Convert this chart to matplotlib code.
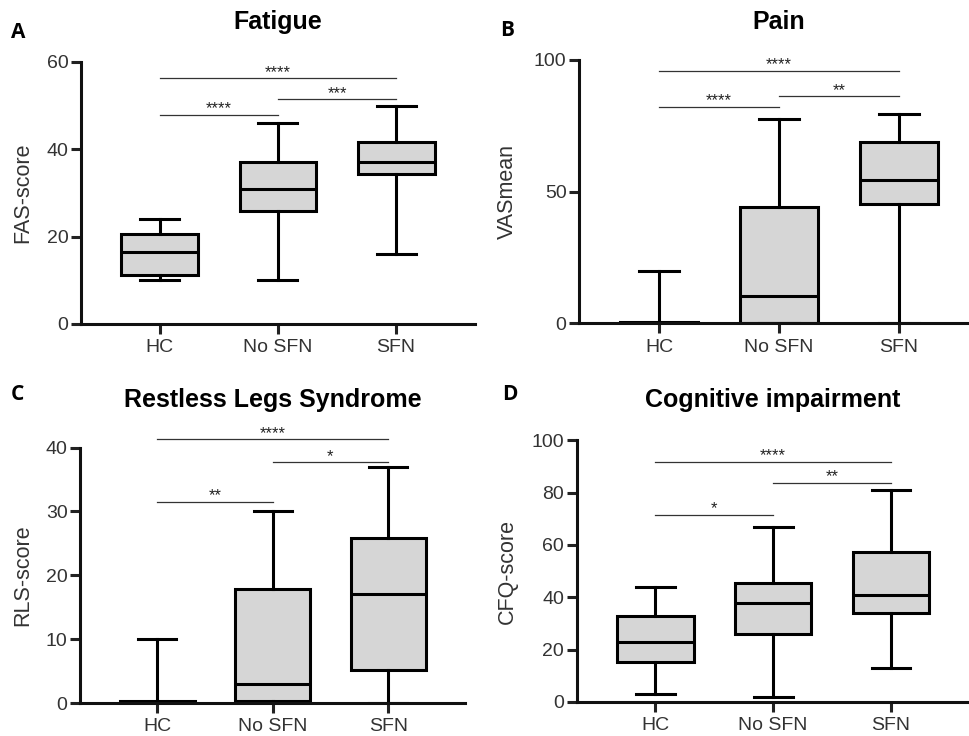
import matplotlib
matplotlib.use('Agg')
import matplotlib.pyplot as plt

plt.rcParams['font.family'] = ['Liberation Sans', 'DejaVu Sans']

# Groups on the x axis
GROUPS = ['HC', 'No SFN', 'SFN']

# Box statistics (whisker low, Q1, median, Q3, whisker high)
fas_lo = [10, 10, 16]
fas_q1 = [11.2, 25.8, 34.3]
fas_med = [16.5, 30.8, 37]
fas_q3 = [20.5, 37.2, 41.7]
fas_hi = [24, 46, 50]

vas_lo = [0, 0, 0]
vas_q1 = [0, 0.3, 45.3]
vas_med = [0, 10.5, 54.3]
vas_q3 = [0.6, 44, 68.9]
vas_hi = [20, 77.6, 79.5]

rls_lo = [0, 0, 0]
rls_q1 = [0, 0.3, 5.1]
rls_med = [0, 3, 17]
rls_q3 = [0.3, 17.8, 25.8]
rls_hi = [10, 30, 37]

cfq_lo = [3, 2, 13]
cfq_q1 = [15.3, 26, 33.9]
cfq_med = [22.8, 38, 40.9]
cfq_q3 = [33, 45.4, 57.2]
cfq_hi = [44, 67, 81]

# Significance brackets: (group a, group b, height, label)
fas_sig = [(1, 2, 47.9, '****'), (2, 3, 51.5, '***'), (1, 3, 56.3, '****')]
vas_sig = [(1, 2, 82.2, '****'), (2, 3, 86.2, '**'), (1, 3, 95.8, '****')]
rls_sig = [(1, 2, 31.5, '**'), (2, 3, 37.7, '*'), (1, 3, 41.3, '****')]
cfq_sig = [(1, 2, 71.5, '*'), (2, 3, 83.8, '**'), (1, 3, 91.7, '****')]

LW = 2.2
FILL = '#d6d6d6'

paineis = [
    # letra, titulo, ylabel, dados, sig, yticks, rect, title_y, letter pos, ylabel x
    ('A', 'Fatigue', 'FAS-score', (fas_lo, fas_q1, fas_med, fas_q3, fas_hi), fas_sig,
     [0, 20, 40, 60], [0.0835, 0.5598, 0.406, 0.356], 1.153, (0.0186, 0.9565), -0.122),
    ('B', 'Pain', 'VASmean', (vas_lo, vas_q1, vas_med, vas_q3, vas_hi), vas_sig,
     [0, 50, 100], [0.597, 0.5607, 0.412, 0.358], 1.144, (0.523, 0.959), -0.152),
    ('C', 'Restless Legs Syndrome', 'RLS-score', (rls_lo, rls_q1, rls_med, rls_q3, rls_hi), rls_sig,
     [0, 10, 20, 30, 40], [0.0825, 0.0448, 0.397, 0.347], 1.186, (0.0175, 0.4637), -0.122),
    ('D', 'Cognitive impairment', 'CFQ-score', (cfq_lo, cfq_q1, cfq_med, cfq_q3, cfq_hi), cfq_sig,
     [0, 20, 40, 60, 80, 100], [0.5945, 0.0462, 0.405, 0.3556], 1.153, (0.526, 0.4637), -0.149),
]

fig = plt.figure(figsize=(9.7, 7.36), dpi=100)

for letra, titulo, ylabel, dados, sig, yticks, rect, title_y, lpos, ylx in paineis:
    ax = fig.add_axes(rect)
    lo, q1, med, q3, hi = dados
    stats = [dict(whislo=lo[i], q1=q1[i], med=med[i], q3=q3[i], whishi=hi[i], fliers=[])
             for i in range(len(GROUPS))]
    ax.bxp(stats, positions=[1, 2, 3], widths=0.65, capwidths=0.33,
           patch_artist=True, showfliers=False,
           boxprops=dict(facecolor=FILL, edgecolor='black', linewidth=LW),
           medianprops=dict(color='black', linewidth=LW),
           whiskerprops=dict(color='black', linewidth=LW),
           capprops=dict(color='black', linewidth=LW))

    ax.set_xlim(0.333, 3.666)
    ax.set_ylim(yticks[0], yticks[-1])
    ax.set_yticks(yticks)
    ax.set_xticks([1, 2, 3])
    ax.set_xticklabels(GROUPS, fontsize=14)
    ax.tick_params(axis='y', labelsize=14, width=LW, length=7, pad=2, colors='#222222',
                   labelcolor='#333333')
    ax.tick_params(axis='x', width=LW, length=7, pad=4, colors='#222222',
                   labelcolor='#333333')

    for s in ['top', 'right']:
        ax.spines[s].set_visible(False)
    for s in ['left', 'bottom']:
        ax.spines[s].set_linewidth(LW)
        ax.spines[s].set_color('#111111')

    ax.set_ylabel(ylabel, fontsize=15.5, color='#333333')
    ax.yaxis.set_label_coords(ylx, 0.5)

    # Barras de significancia
    for a, b, h, lab in sig:
        ax.plot([a, b], [h, h], color='#333333', linewidth=0.9, clip_on=False)
        ax.annotate(lab, xy=((a + b) / 2, h), xytext=(0, 1), textcoords='offset points',
                    ha='center', va='baseline', fontsize=12, color='#222222',
                    annotation_clip=False)

    ax.text(0.5, title_y, titulo, transform=ax.transAxes, ha='center', va='center',
            fontsize=18, fontweight='bold')
    fig.text(lpos[0], lpos[1], letra, ha='center', va='center', fontsize=15,
             fontweight='bold', family=['Open Sans', 'DejaVu Sans'])

fig.savefig('out.png', dpi=100, facecolor='white')
